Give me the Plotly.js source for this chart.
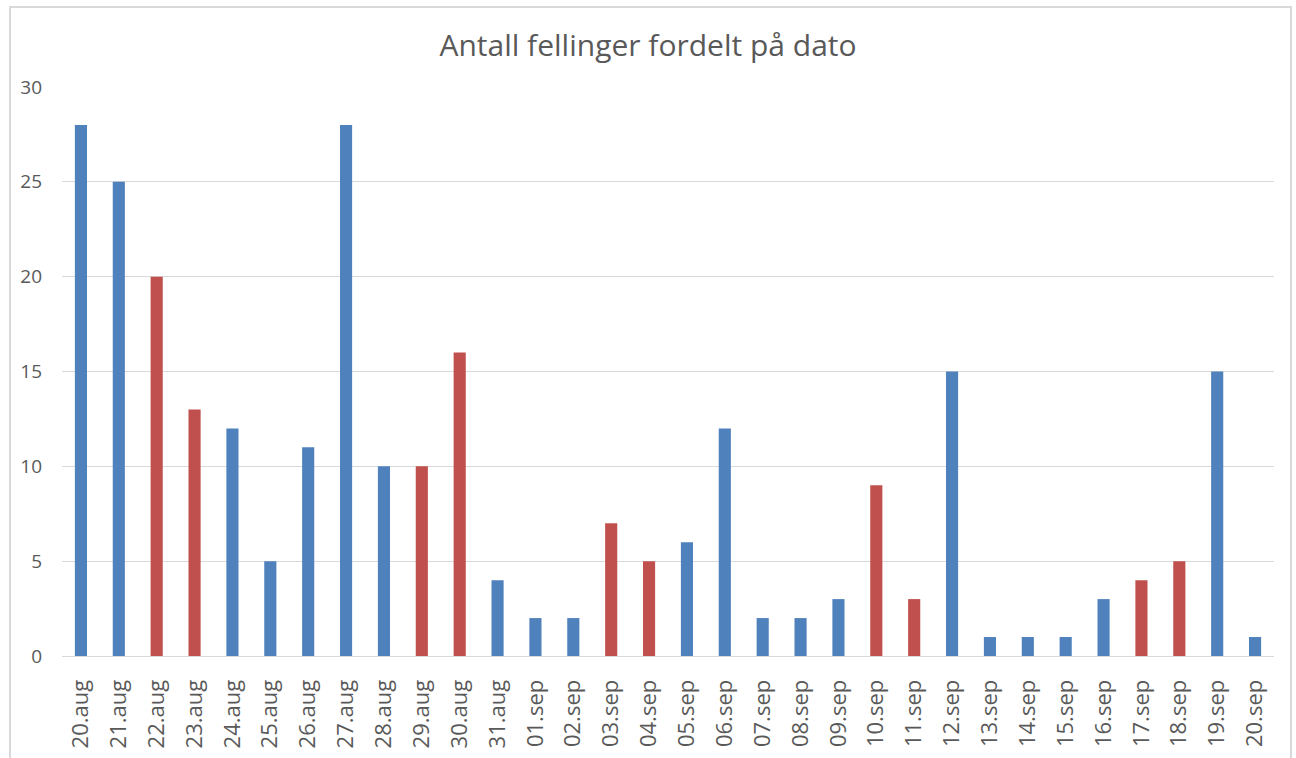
<!DOCTYPE html>
<html>
<head>
<meta charset="utf-8">
<script src="https://cdn.plot.ly/plotly-3.0.1.min.js"></script>
<style>
html,body{margin:0;padding:0;background:#fff;overflow:hidden;}
#chart{width:1296px;height:758px;position:absolute;left:0;top:0;}
#frame{position:absolute;left:9px;top:6px;width:1279px;height:770px;border:2px solid #d9d9d9;pointer-events:none;}
</style>
</head>
<body>
<div id="chart"></div>
<div id="frame"></div>
<script>
const dates = ["20.aug","21.aug","22.aug","23.aug","24.aug","25.aug","26.aug","27.aug","28.aug","29.aug","30.aug","31.aug",
  "01.sep","02.sep","03.sep","04.sep","05.sep","06.sep","07.sep","08.sep","09.sep","10.sep","11.sep","12.sep",
  "13.sep","14.sep","15.sep","16.sep","17.sep","18.sep","19.sep","20.sep"];
const counts = [28,25,20,13,12,5,11,28,10,10,16,4,2,2,7,5,6,12,2,2,3,9,3,15,1,1,1,3,4,5,15,1];
const highlighted = [0,0,1,1,0,0,0,0,0,1,1,0,0,0,1,1,0,0,0,0,0,1,1,0,0,0,0,0,1,1,0,0];
const blue = "#4f81bd", red = "#c0504d";

const trace = {
  type: "bar",
  x: dates,
  y: counts,
  marker: {color: highlighted.map(h => h ? red : blue)},
  hoverinfo: "x+y"
};

const layout = {
  width: 1296, height: 758, autosize: false,
  margin: {l: 62, r: 22, t: 87, b: 102, pad: 0},
  paper_bgcolor: "#fff", plot_bgcolor: "#fff",
  font: {family: "Open Sans, Noto Sans, sans-serif", color: "#595959", size: 18},
  title: {text: "Antall fellinger fordelt på dato", font: {size: 30, color: "#595959"},
          x: 0.5, xanchor: "center", y: 1 - 45/758, yanchor: "middle", yref: "container"},
  bargap: 0.68,
  showlegend: false,
  xaxis: {type: "category", tickangle: -90, showline: true, linecolor: "#d9d9d9", linewidth: 1,
          ticks: "", showgrid: false, tickfont: {size: 22, color: "#595959"}, ticklabelstandoff: 14},
  yaxis: {range: [0, 30], dtick: 5, tick0: 0, showgrid: true, gridcolor: "#d9d9d9", gridwidth: 1,
          zeroline: false, showline: false, ticks: "", tickfont: {size: 19, color: "#595959"},
          ticklabelstandoff: 19}
};

Plotly.newPlot("chart", [trace], layout, {displayModeBar: false, staticPlot: true});
</script>
</body>
</html>
